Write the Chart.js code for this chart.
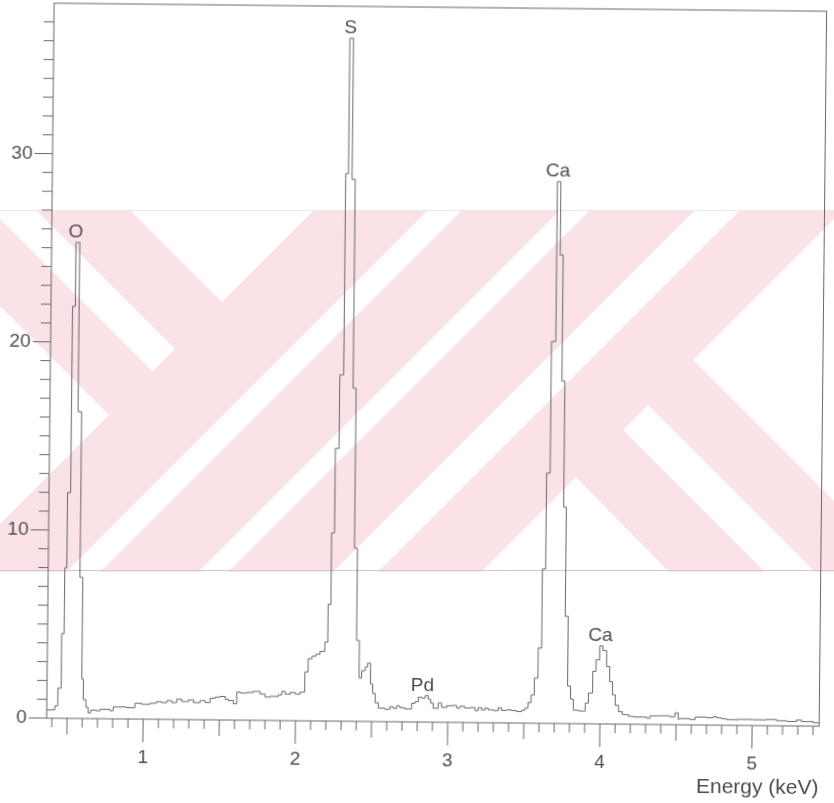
<!DOCTYPE html>
<html>
<head>
<meta charset="utf-8">
<title>EDS spectrum</title>
<script src="https://cdn.jsdelivr.net/npm/chart.js@4.4.1/dist/chart.umd.min.js"></script>
<style>
  html, body { margin: 0; padding: 0; background: #fff; }
  body { width: 834px; height: 803px; position: relative; overflow: hidden; }
  #mark { position: absolute; left: 0; top: 0; }
  /* the scanned page sits a little crooked */
  #wrap { position: absolute; left: 0; top: 0; width: 834px; height: 803px;
          transform: rotate(0.6deg); transform-origin: 417px 401px; }
</style>
</head>
<body>

<!-- watermark band behind the chart -->
<svg id="mark" width="834" height="803">
  <defs><clipPath id="band"><rect x="0" y="210" width="834" height="362"/></clipPath></defs>
  <g clip-path="url(#band)">
    <rect x="0" y="210" width="834" height="362" fill="#fae2e7"/>
    <g fill="#fff">
      <polygon points="130,210 314,210 222,302"/>
      <polygon points="-9,210 36,210 175,349 152.5,371.5"/>
      <polygon points="0,306 109,415 0,524"/>
      <polygon points="428,210 462,210 100,572 66,572"/>
      <polygon points="560,210 590,210 228,572 198,572"/>
      <polygon points="695,210 740,210 378,572 333,572"/>
      <polygon points="576,477 479,574 671,574"/>
      <polygon points="623,430 648,405 815,572 765,572"/>
      <polygon points="693,360 843,210 900,210 905,572"/>
    </g>
  </g>
  <line x1="0" y1="210.5" x2="834" y2="210.5" stroke="#efe6f0" stroke-width="1"/>
  <line x1="0" y1="570.5" x2="834" y2="570.5" stroke="#cfc6de" stroke-width="1"/>
</svg>

<div id="wrap"><canvas id="graph" width="834" height="803"></canvas></div>

<script>
// spectrum: each energy is the left edge of a step, count holds until the next one
const energyKeV = [
  0.366, 0.419, 0.438, 0.459, 0.475, 0.488, 0.508, 0.526, 0.551, 0.575, 0.594, 0.605, 0.623, 0.637, 0.655, 0.690,
  0.716, 0.781, 0.803, 0.891, 0.945, 0.989, 1.044, 1.087, 1.120, 1.154, 1.187, 1.219, 1.252, 1.296, 1.329, 1.372,
  1.405, 1.438, 1.471, 1.504, 1.537, 1.558, 1.591, 1.613, 1.635, 1.678, 1.722, 1.766, 1.799, 1.832, 1.887, 1.909,
  1.931, 1.964, 1.997, 2.029,
  2.059, 2.080, 2.105, 2.131, 2.157, 2.189, 2.207, 2.225, 2.244, 2.268, 2.293, 2.311, 2.335, 2.356, 2.376, 2.396,
  2.415, 2.432, 2.455, 2.470, 2.490, 2.505, 2.522, 2.543,
  2.587, 2.620, 2.641, 2.664, 2.685, 2.718, 2.762, 2.784, 2.806, 2.828, 2.850, 2.871, 2.887, 2.904, 2.937, 2.959,
  2.992, 3.025, 3.058, 3.079, 3.112, 3.145, 3.178, 3.200, 3.222, 3.244, 3.265, 3.298, 3.331, 3.353, 3.386, 3.419,
  3.452, 3.485, 3.506,
  3.526, 3.546, 3.567, 3.590, 3.612, 3.633, 3.656, 3.684, 3.707, 3.727, 3.747, 3.765, 3.785, 3.805, 3.824, 3.860,
  3.902, 3.923, 3.950, 3.971, 3.994, 4.015, 4.040, 4.061, 4.081, 4.099, 4.121, 4.146,
  4.186, 4.218, 4.306, 4.328, 4.394, 4.459, 4.492, 4.514, 4.525, 4.591, 4.624, 4.700, 4.744, 4.766, 4.799, 4.832,
  4.908, 5.006, 5.094, 5.160, 5.226, 5.292, 5.324, 5.401, 5.440
];
const counts = [
  0.44, 0.65, 1.6, 4.5, 8.0, 12.0, 21.9, 25.3, 16.3, 7.5, 2.1, 1.0, 0.6, 0.3, 0.45, 0.42,
  0.50, 0.43, 0.64, 0.60, 0.84, 0.79, 0.85, 0.94, 0.89, 1.00, 0.90, 1.08, 0.96, 1.05, 0.91, 1.02,
  0.92, 1.15, 1.21, 1.25, 1.11, 1.04, 0.87, 1.49, 1.44, 1.48, 1.54, 1.40, 1.24, 1.28, 1.37, 1.55,
  1.41, 1.50, 1.42, 1.53,
  2.6, 3.3, 3.45, 3.55, 3.7, 4.2, 6.2, 10.0, 14.5, 18.4, 29.1, 36.3, 28.8, 17.7, 9.2, 4.3,
  2.3, 2.7, 2.9, 3.1, 2.0, 1.5, 1.0, 0.72,
  0.66, 0.80, 0.72, 0.85, 0.75, 0.69, 0.99, 1.08, 1.32, 1.27, 1.40, 1.22, 1.01, 0.74, 1.02, 0.79,
  0.88, 0.90, 0.76, 0.86, 0.77, 0.80, 0.64, 0.80, 0.68, 0.78, 0.69, 0.65, 0.80, 0.66, 0.70, 0.66,
  0.61, 0.68, 0.80,
  1.1, 1.5, 2.4, 4.0, 8.2, 13.3, 20.3, 28.8, 24.9, 18.2, 11.5, 5.7, 2.0, 1.3, 0.72, 0.68,
  1.1, 1.64, 2.79, 3.41, 4.15, 3.9, 3.05, 2.25, 1.55, 1.0, 0.66, 0.51,
  0.42, 0.39, 0.33, 0.46, 0.47, 0.42, 0.63, 0.30, 0.33, 0.28, 0.42, 0.39, 0.45, 0.39, 0.34, 0.30,
  0.32, 0.31, 0.33, 0.27, 0.24, 0.32, 0.24, 0.18, 0.18
];

// element markers
const peakNames = ['O', 'S', 'Ca', 'Pd', 'Ca'];
const peakEnergies = [0.525, 2.315, 3.688, 2.832, 3.998];

// axis labels
const xTickLabels = [1, 2, 3, 4, 5];
const yTickLabels = [0, 10, 20, 30];

const lineInk = '#686868';
const textInk = '#4e4e4e';
const family = '"Liberation Sans", Arial, sans-serif';

// box round the plot plus the little tick marks (every 0.1 keV / every count unit)
const frameTicks = {
  id: 'frameTicks',
  afterDraw(chart) {
    const { ctx, chartArea: a, scales: { x, y } } = chart;
    ctx.save();
    ctx.strokeStyle = lineInk;
    ctx.lineWidth = 1;
    ctx.strokeRect(a.left, a.top, a.right - a.left, a.bottom - a.top);
    ctx.beginPath();
    for (let t = 4; t <= 54; t++) {
      const px = x.getPixelForValue(t / 10);
      const len = t % 10 === 0 ? 23 : (t % 5 === 0 ? 16 : 9);
      ctx.moveTo(px, a.bottom);
      ctx.lineTo(px, a.bottom + len);
    }
    for (let v = 0; v <= 37; v++) {
      const py = y.getPixelForValue(v);
      const len = v % 10 === 0 ? 18 : 10;
      ctx.moveTo(a.left, py);
      ctx.lineTo(a.left - len, py);
    }
    ctx.stroke();
    ctx.restore();
  }
};

// O, S, Ca ... written just above the top of each peak
const peakTags = {
  id: 'peakTags',
  afterDatasetsDraw(chart) {
    const { ctx, scales: { x, y } } = chart;
    ctx.save();
    ctx.fillStyle = textInk;
    ctx.font = '19px ' + family;
    ctx.textAlign = 'center';
    ctx.textBaseline = 'middle';
    peakNames.forEach((name, i) => {
      const e = peakEnergies[i];
      let top = 0;
      energyKeV.forEach((k, j) => {
        if (Math.abs(k - e) <= 0.03 && counts[j] > top) top = counts[j];
      });
      ctx.fillText(name, x.getPixelForValue(e), y.getPixelForValue(top) - 10);
    });
    ctx.restore();
  }
};

// the labels are not at the ends of the axes, so drop the room chart.js keeps for them
function noEdgePadding(s) {
  s.paddingTop = 0; s.paddingBottom = 0; s.paddingLeft = 0; s.paddingRight = 0;
}

var ctx = document.getElementById('graph').getContext('2d');

var spectrum = new Chart(ctx, {
  type: 'line',
  data: {
    datasets: [{
      data: energyKeV.map((e, i) => ({ x: e, y: counts[i] })),
      stepped: 'before',
      borderColor: lineInk,
      borderWidth: 1,
      pointRadius: 0,
      fill: false
    }]
  },
  options: {
    responsive: false,
    animation: false,
    layout: { padding: { top: 7, right: 11.5, left: 0, bottom: 0 } },
    plugins: { legend: { display: false }, tooltip: { enabled: false } },
    scales: {
      x: {
        type: 'linear',
        min: 0.366,
        max: 5.44,
        border: { display: false },
        grid: { display: false, drawTicks: false },
        afterBuildTicks: s => { s.ticks = xTickLabels.map(v => ({ value: v })); },
        afterFit: s => { s.height = 81; noEdgePadding(s); },
        ticks: { padding: 27, color: textInk, font: { family: family, size: 19 }, maxRotation: 0, autoSkip: false },
        title: {
          display: true, text: 'Energy (keV)', align: 'end', color: textInk,
          font: { family: family, size: 21 }, padding: { top: 0, bottom: 6 }
        }
      },
      y: {
        min: 0,
        max: 38,
        border: { display: false },
        grid: { display: false, drawTicks: false },
        afterBuildTicks: s => { s.ticks = yTickLabels.map(v => ({ value: v })); },
        afterFit: s => { s.width = 50; noEdgePadding(s); },
        ticks: { padding: 20, color: textInk, font: { family: family, size: 19 } }
      }
    }
  },
  plugins: [frameTicks, peakTags]
});
</script>
</body>
</html>
